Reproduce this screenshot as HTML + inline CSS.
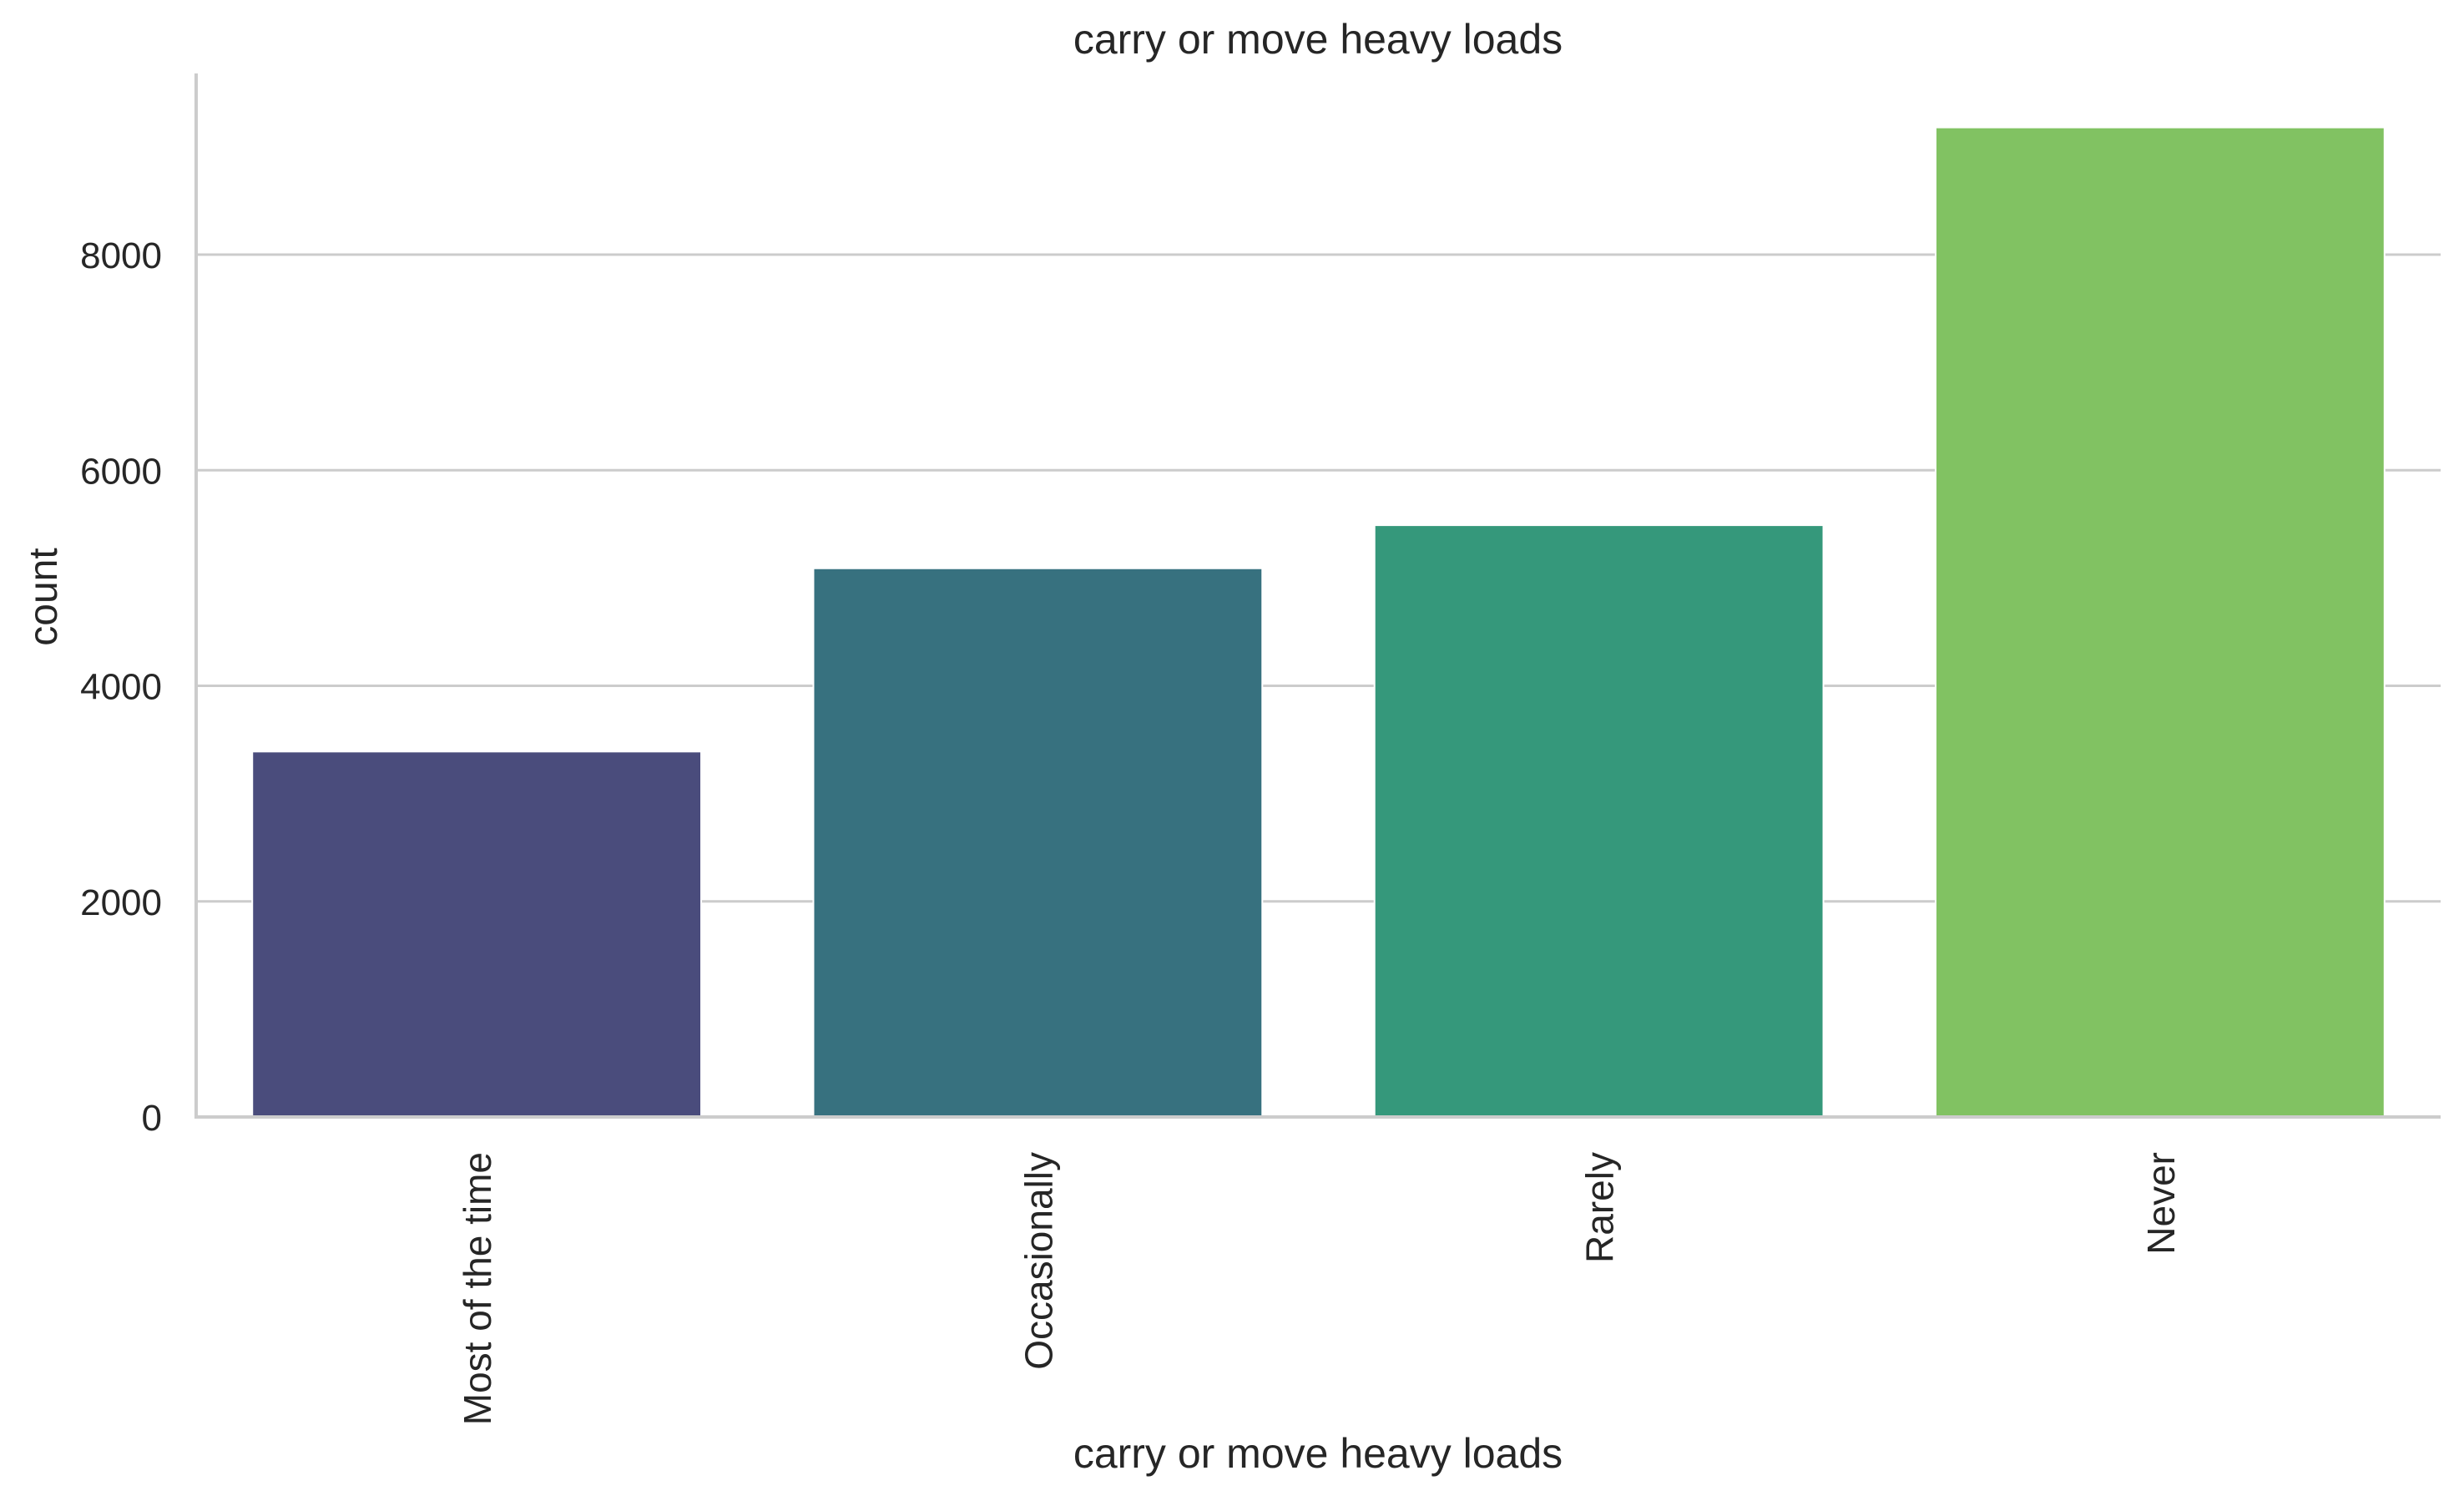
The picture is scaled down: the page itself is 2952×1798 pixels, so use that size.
<!DOCTYPE html>
<html><head><meta charset="utf-8"><style>
html,body{margin:0;padding:0;background:#fff;}
svg{display:block;font-family:"Liberation Sans",Arial,sans-serif;}
</style></head><body>
<svg id="chart" width="2952" height="1798" viewBox="0 0 2952 1798" xmlns="http://www.w3.org/2000/svg">
<g id="grid"></g>
<g id="bars"></g>
<g id="axes"></g>
<text x="1579" y="64" font-size="50" text-anchor="middle" fill="#262626">carry or move heavy loads</text>
<text x="1579" y="1758" font-size="50" text-anchor="middle" fill="#262626">carry or move heavy loads</text>
<text transform="translate(68,715) rotate(-90)" font-size="48" text-anchor="middle" fill="#262626">count</text>
</svg>
<script>
const categories = ["Most of the time","Occasionally","Rarely","Never"];
const counts = [3390, 5090, 5490, 9180];
const colors = ["#4a4c7c","#37717f","#35987b","#81c262"];
const yTicks = [0,2000,4000,6000,8000];
const yTickLabels = ["0","2000","4000","6000","8000"];

const NS="http://www.w3.org/2000/svg";
const L=235, R=2924, B=1338, T=88;
const perUnit=(1338-305)/8000;
function y(v){return B - v*perUnit;}
const slot=(R-L)/categories.length;
function xc(i){return L+slot*(i+0.5);}
const bw=slot*0.8;
function mk(tag,attrs,parent){const e=document.createElementNS(NS,tag);for(const k in attrs)e.setAttribute(k,attrs[k]);parent.appendChild(e);return e;}
const grid=document.getElementById('grid'),bars=document.getElementById('bars'),axes=document.getElementById('axes');
yTicks.forEach((t,i)=>{
  if(t>0){const g=mk('line',{x1:L,x2:R,y1:y(t),y2:y(t),stroke:'#cccccc','stroke-width':3},grid);
  
  }
  const tl=mk('text',{x:194,y:y(t)+16,'font-size':44,'text-anchor':'end',fill:'#262626'},axes);
  tl.textContent=yTickLabels[i];
  
  
});
categories.forEach((c,i)=>{
  const r=mk('rect',{x:xc(i)-bw/2,y:y(counts[i]),width:bw,height:B-y(counts[i]),fill:colors[i],stroke:'#fff','stroke-width':2},bars);
  
  
  const t=mk('text',{transform:`translate(${xc(i)+17},1380) rotate(-90)`,'font-size':46,'text-anchor':'end',fill:'#262626'},axes);
  t.textContent=c;
  
  
});
const ax1=mk('line',{x1:L,x2:L,y1:T,y2:B+1.5,stroke:'#cccccc','stroke-width':4},axes);


const ax2=mk('line',{x1:L-2,x2:R,y1:B,y2:B,stroke:'#cccccc','stroke-width':4},axes);


</script>
</body></html>
